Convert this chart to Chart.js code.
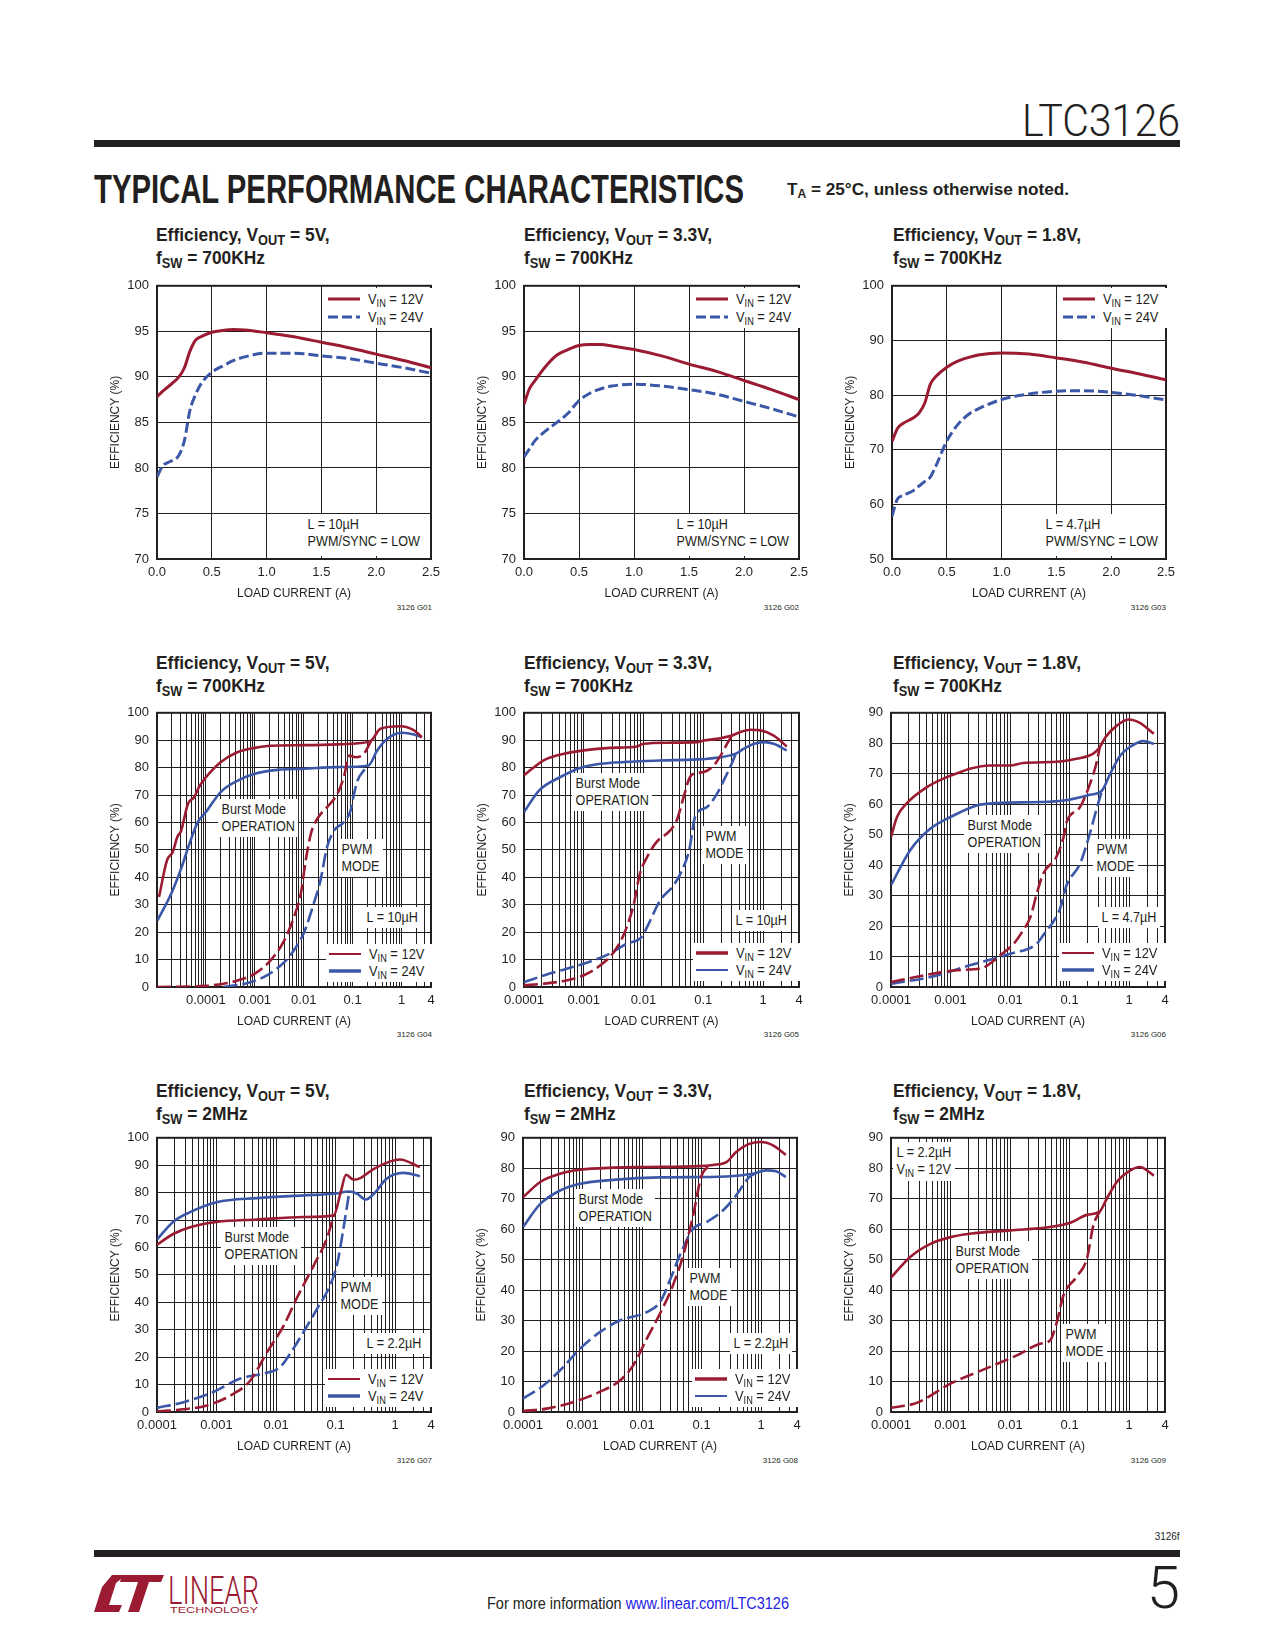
<!DOCTYPE html>
<html>
<head>
<meta charset="utf-8">
<script src="https://cdn.jsdelivr.net/npm/chart.js@4.4.1/dist/chart.umd.min.js"></script>
<style>
  body { margin: 0; background: #fff; }
  #page { position: relative; width: 1275px; height: 1650px; overflow: hidden;
    font-family: "Liberation Sans", Arial, sans-serif; color: #231f20; }
  #page canvas { position: absolute; z-index: 1; }
  .abs { position: absolute; white-space: nowrap; z-index: 2; }
  .title { position: absolute; font-weight: bold; font-size: 19px; line-height: 22px; white-space: nowrap;
    transform: scaleX(0.915); transform-origin: 0 0; }
  .sub { font-size: 14px; position: relative; top: 4px; }
  .note { position: absolute; background: #fff; font-size: 14px; line-height: 17px; padding: 2px 4px; white-space: nowrap; z-index: 2;
    transform: scaleX(0.9); transform-origin: 0 0; }
  .leg { position: absolute; background: #fff; font-size: 14px; padding: 2px 4px 2px 3px; z-index: 2; }
  .leg .row { display: flex; align-items: center; white-space: nowrap; }
  .leg svg { margin-right: 8px; }
  .leg .txt { display: inline-block; transform: scaleX(0.92); transform-origin: 0 50%; }
  .s { font-size: 10px; position: relative; top: 3px; }
  .gid { position: absolute; font-size: 8px; white-space: nowrap; }
  .thin { font-family: Roboto, "Liberation Sans", sans-serif; font-weight: 300; }
</style>
</head>
<body>
<div id="page">
  <div id="part" class="abs thin" style="left:1022px; top:99px; font-size:44px; line-height:44px; transform-origin:0 0;">LTC3126</div>
  <div class="abs" style="left:94px; top:140px; width:1086px; height:7px; background:#231f20;"></div>
  <div id="hdr" class="abs" style="left:94px; top:169px; font-size:40px; line-height:40px; font-weight:bold; transform-origin:0 0;">TYPICAL PERFORMANCE CHARACTERISTICS</div>
  <div id="ta" class="abs" style="left:787px; top:181px; font-size:17px; line-height:17px; font-weight:bold; transform-origin:0 0;">T<span style="font-size:12px; position:relative; top:3px;">A</span> = 25°C, unless otherwise noted.</div>

  <div class="abs" style="right:95px; top:1530px; font-size:11px; transform:scaleX(0.9); transform-origin:100% 0;">3126f</div>
  <div class="abs" style="left:94px; top:1550px; width:1086px; height:7px; background:#231f20;"></div>
  <div class="abs thin" style="right:95px; top:1558px; font-size:60px; line-height:60px;">5</div>
  <div id="more" class="abs" style="left:487px; top:1595px; font-size:16px; line-height:18px; transform-origin:0 0;">For more information <span style="color:#2323e6;">www.linear.com/LTC3126</span></div>
  <svg class="abs" style="left:92px; top:1573px;" width="172" height="42">
    <polygon points="2,39 10,14 20,2 34,2 24,10 17,32 30,32 27,39" fill="#9a1b32"/>
    <polygon points="30,2 72,2 69,9 57,9 47,39 36,39 46,9 28,9" fill="#9a1b32"/>
    <text x="76" y="31" font-size="38" fill="#9a1b32" textLength="91" lengthAdjust="spacingAndGlyphs" font-family="Roboto, Liberation Sans, sans-serif" font-weight="300">LINEAR</text>
    <text x="78" y="40" font-size="9" fill="#9a1b32" textLength="88" lengthAdjust="spacingAndGlyphs" font-family="Liberation Sans, sans-serif">TECHNOLOGY</text>
  </svg>
</div>

<script>
// ---------- data (load current in A, efficiency in %) ----------

// G01  VOUT = 5V, 700kHz, linear axis
const g01Current = [0, 0.05, 0.1, 0.2, 0.25, 0.3, 0.35, 0.4, 0.5, 0.6, 0.7, 0.8, 1.0, 1.25, 1.5, 1.75, 2.0, 2.25, 2.5];
const g01Vin12 = [87.8, 88.4, 88.9, 90.0, 91.0, 92.8, 94.0, 94.4, 94.9, 95.1, 95.2, 95.15, 94.85, 94.4, 93.8, 93.2, 92.5, 91.8, 91.0];
const g01Vin24 = [79.0, 80.2, 80.6, 81.4, 83.0, 86.3, 88.0, 89.2, 90.5, 91.2, 91.8, 92.2, 92.6, 92.6, 92.3, 92.0, 91.5, 91.0, 90.4];

// G02  VOUT = 3.3V, 700kHz
const g02Current = [0, 0.05, 0.1, 0.2, 0.3, 0.4, 0.5, 0.6, 0.7, 0.8, 1.0, 1.25, 1.5, 1.75, 2.0, 2.25, 2.5];
const g02Vin12 = [87.0, 88.7, 89.6, 91.2, 92.4, 93.0, 93.45, 93.55, 93.55, 93.4, 93.0, 92.3, 91.4, 90.6, 89.6, 88.6, 87.5];
const g02Vin24 = [81.2, 82.1, 83.0, 84.1, 85.0, 86.0, 87.4, 88.2, 88.7, 89.0, 89.2, 89.0, 88.6, 88.1, 87.3, 86.5, 85.6];

// G03  VOUT = 1.8V, 700kHz
const g03Current = [0, 0.05, 0.1, 0.2, 0.25, 0.3, 0.35, 0.4, 0.5, 0.6, 0.7, 0.8, 1.0, 1.25, 1.5, 1.75, 2.0, 2.25, 2.5];
const g03Vin12 = [71.5, 73.9, 74.8, 75.9, 76.8, 78.6, 82.0, 83.4, 85.1, 86.2, 86.9, 87.4, 87.7, 87.5, 86.8, 86.0, 84.9, 83.9, 82.8];
const g03Vin24 = [57.8, 61.0, 61.6, 62.6, 63.4, 64.2, 65.0, 67.0, 71.6, 74.6, 76.5, 77.6, 79.2, 80.2, 80.7, 80.8, 80.5, 79.9, 79.1];

// G04  VOUT = 5V, 700kHz, log axis (solid = Burst Mode, dashed = PWM)
const g04Vin12BurstI = [1.1e-5, 1.6e-5, 2.1e-5, 2.6e-5, 3.1e-5, 4.3e-5, 5.8e-5, 7.2e-5, 1e-4, 2e-4, 4.5e-4, 1e-3, 2.1e-3, 0.01, 0.05, 0.13, 0.24, 0.37, 0.95, 1.8, 2.6];
const g04Vin12BurstEff = [32.8, 46.2, 49.2, 54.7, 56.9, 66.8, 69.3, 72.9, 76.5, 82.0, 85.7, 87.2, 88.0, 88.2, 88.5, 88.9, 89.9, 94.2, 95.1, 93.6, 91.1];
const g04Vin12PwmI = [1e-5, 1e-4, 2.3e-4, 4.5e-4, 1e-3, 2.1e-3, 4e-3, 6.3e-3, 8.7e-3, 0.011, 0.014, 0.019, 0.03, 0.049, 0.066, 0.085, 0.115, 0.17, 0.24];
const g04Vin12PwmEff = [0, 0.4, 1.2, 2.4, 4.9, 9.7, 17.0, 25.5, 34.0, 46.2, 55.9, 61.4, 65.6, 70.5, 76.5, 84.4, 83.8, 85.1, 89.9];
const g04Vin24BurstI = [1.02e-5, 1.95e-5, 3.1e-5, 4.6e-5, 6.8e-5, 1e-4, 2e-4, 4.5e-4, 1e-3, 2.9e-3, 0.01, 0.049, 0.21, 0.32, 0.51, 1.02, 1.8, 2.6];
const g04Vin24BurstEff = [24.3, 34.0, 43.1, 52.2, 60.1, 63.8, 71.1, 75.3, 77.8, 79.2, 79.6, 80.2, 80.8, 86.3, 90.5, 92.7, 92.1, 91.1];
const g04Vin24PwmI = [2.3e-4, 7.1e-4, 1.8e-3, 4e-3, 6.3e-3, 0.0102, 0.016, 0.022, 0.03, 0.042, 0.066, 0.091, 0.107, 0.126, 0.17, 0.21];
const g04Vin24PwmEff = [0, 1.5, 4.3, 9.1, 13.4, 20.0, 30.4, 38.9, 51.0, 57.1, 60.1, 64.4, 70.5, 75.3, 79.0, 80.8];

// G05  VOUT = 3.3V, 700kHz
const g05Vin12BurstI = [1e-4, 2.1e-4, 3.5e-4, 1e-3, 2.75e-3, 7.8e-3, 0.01, 0.025, 0.079, 0.102, 0.17, 0.3, 0.42, 0.62, 0.91, 1.51, 2.5];
const g05Vin12BurstEff = [77.2, 82.6, 84.4, 86.3, 87.2, 87.7, 88.7, 89.1, 89.3, 89.9, 90.5, 91.7, 93.0, 93.8, 93.6, 91.7, 87.7];
const g05Vin12PwmI = [1e-4, 2.1e-4, 5.1e-4, 1e-3, 1.9e-3, 3.2e-3, 4.6e-3, 6.8e-3, 8.7e-3, 0.0115, 0.0166, 0.028, 0.036, 0.047, 0.058, 0.069, 0.102, 0.15, 0.195, 0.25, 0.3];
const g05Vin12PwmEff = [0.6, 1.2, 2.4, 4.3, 7.9, 12.8, 18.8, 29.8, 41.3, 47.4, 52.9, 57.1, 60.8, 69.3, 75.9, 77.8, 78.4, 80.8, 84.4, 88.7, 91.7];
const g05Vin24BurstI = [1e-4, 1.8e-4, 4e-4, 8.7e-4, 1.9e-3, 5.2e-3, 0.019, 0.079, 0.195, 0.35, 0.48, 0.71, 1.05, 1.51, 2.5];
const g05Vin24BurstEff = [63.8, 71.7, 76.5, 79.9, 81.4, 82.1, 82.6, 83.0, 83.8, 85.1, 86.9, 88.7, 89.3, 88.7, 86.3];
const g05Vin24PwmI = [1e-4, 2.7e-4, 1e-3, 2.75e-3, 5.2e-3, 9.3e-3, 0.0115, 0.019, 0.032, 0.044, 0.058, 0.074, 0.115, 0.17, 0.22, 0.29, 0.35];
const g05Vin24PwmEff = [1.8, 4.9, 8.5, 12.2, 15.8, 18.2, 21.9, 31.6, 37.1, 42.5, 49.8, 62.5, 65.6, 70.5, 75.3, 80.8, 85.1];

// G06  VOUT = 1.8V, 700kHz
const g06Vin12BurstI = [1e-4, 1.26e-4, 1.8e-4, 4e-4, 8.7e-4, 1.45e-3, 2.1e-3, 4.6e-3, 0.01, 0.0166, 0.069, 0.13, 0.25, 0.32, 0.4, 0.62, 0.98, 1.51, 2.6];
const g06Vin12BurstEff = [49.2, 55.8, 60.1, 65.6, 68.9, 70.5, 71.6, 72.7, 72.7, 73.5, 74.0, 74.9, 76.6, 78.7, 82.0, 85.8, 87.8, 86.7, 83.1];
const g06Vin12PwmI = [1e-4, 3.5e-4, 1.26e-3, 3.5e-3, 4.6e-3, 6.8e-3, 0.0115, 0.0166, 0.022, 0.028, 0.036, 0.06, 0.079, 0.089, 0.15, 0.21, 0.29, 0.32];
const g06Vin12PwmEff = [1.6, 3.8, 5.5, 6.3, 7.7, 10.4, 14.2, 18.6, 23.0, 30.6, 37.2, 42.7, 49.2, 54.1, 59.1, 65.6, 74.4, 78.7];
const g06Vin24BurstI = [1e-4, 2.1e-4, 4.6e-4, 1e-3, 2.75e-3, 6e-3, 0.032, 0.079, 0.22, 0.35, 0.48, 0.71, 1.05, 1.74, 2.6];
const g06Vin24BurstEff = [33.4, 44.9, 52.0, 55.8, 59.6, 60.4, 60.7, 61.2, 63.1, 64.5, 70.0, 76.0, 78.9, 80.7, 79.8];
const g06Vin24PwmI = [1e-4, 4.6e-4, 2.1e-3, 0.01, 0.028, 0.036, 0.069, 0.089, 0.15, 0.21, 0.29, 0.35];
const g06Vin24PwmEff = [1.1, 3.3, 7.1, 10.9, 14.2, 17.0, 25.7, 33.4, 40.5, 49.2, 59.1, 64.5];

// G07  VOUT = 5V, 2MHz
const g07Vin12BurstI = [1e-4, 1.9e-4, 3.6e-4, 1e-3, 4.8e-3, 0.029, 0.093, 0.12, 0.15, 0.2, 0.26, 0.44, 0.83, 1.2, 2.6];
const g07Vin12BurstEff = [61.0, 65.0, 67.4, 69.3, 70.2, 71.1, 71.7, 79.6, 86.5, 84.7, 85.3, 88.7, 91.4, 92.1, 89.3];
const g07Vin12PwmI = [1e-4, 2.5e-4, 6.9e-4, 1.95e-3, 3.7e-3, 7.1e-3, 0.0135, 0.022, 0.043, 0.071, 0.093];
const g07Vin12PwmEff = [0.2, 0.9, 2.4, 6.7, 11.5, 21.9, 31.6, 41.3, 53.5, 63.2, 71.7];
const g07Vin24BurstI = [1e-4, 1.9e-4, 3.6e-4, 1e-3, 4.8e-3, 0.029, 0.093, 0.17, 0.23, 0.32, 0.44, 0.72, 1.38, 2.6];
const g07Vin24BurstEff = [62.9, 69.5, 72.9, 76.5, 78.0, 79.0, 79.6, 80.4, 79.6, 77.5, 79.6, 85.1, 87.2, 86.0];
const g07Vin24PwmI = [1e-4, 2.8e-4, 8.9e-4, 2.5e-3, 6.2e-3, 0.0117, 0.0195, 0.029, 0.049, 0.081, 0.105, 0.135, 0.17];
const g07Vin24PwmEff = [1.5, 3.6, 7.3, 12.2, 14.0, 16.4, 23.1, 29.2, 37.7, 46.2, 53.5, 66.8, 80.4];

// G08  VOUT = 3.3V, 2MHz
const g08Vin12BurstI = [1e-4, 1.95e-4, 4.2e-4, 9.1e-4, 3.3e-3, 0.012, 0.093, 0.155, 0.26, 0.38, 0.63, 1.0, 1.58, 2.6];
const g08Vin12BurstEff = [70.5, 75.5, 78.2, 79.5, 80.2, 80.4, 80.7, 81.1, 82.0, 85.3, 88.0, 88.6, 87.5, 84.4];
const g08Vin12PwmI = [1e-4, 2.5e-4, 7.1e-4, 1.95e-3, 4.3e-3, 7.1e-3, 0.012, 0.02, 0.033, 0.049, 0.072, 0.1, 0.155];
const g08Vin12PwmEff = [0.3, 1.1, 3.3, 6.6, 10.4, 15.3, 24.1, 32.3, 41.6, 51.4, 64.5, 77.6, 81.1];
const g08Vin24BurstI = [1e-4, 1.95e-4, 4.2e-4, 9.1e-4, 3.3e-3, 0.02, 0.26, 0.72, 1.2, 1.78, 2.6];
const g08Vin24BurstEff = [60.7, 68.3, 72.7, 74.9, 76.2, 77.0, 77.3, 78.2, 79.3, 79.0, 77.1];
const g08Vin24PwmI = [1e-4, 2.2e-4, 4.2e-4, 9.1e-4, 1.95e-3, 4.3e-3, 0.012, 0.02, 0.03, 0.043, 0.072, 0.12, 0.23, 0.38, 0.63, 1.0];
const g08Vin24PwmEff = [4.4, 8.7, 13.7, 20.8, 26.2, 30.1, 32.8, 36.1, 43.7, 51.4, 60.1, 62.3, 66.2, 71.1, 77.1, 79.0];

// G09  VOUT = 1.8V, 2MHz, VIN = 12V only
const g09Vin12BurstI = [1e-4, 2.1e-4, 4.6e-4, 1e-3, 2.1e-3, 0.01, 0.047, 0.102, 0.195, 0.32, 0.42, 0.62, 1.05, 1.51, 2.6];
const g09Vin12BurstEff = [44.1, 50.9, 55.2, 57.4, 58.5, 59.6, 60.7, 62.1, 64.7, 65.8, 70.0, 75.5, 79.3, 80.4, 77.6];
const g09Vin12PwmI = [1e-4, 2.7e-4, 1e-3, 4.6e-3, 0.013, 0.032, 0.047, 0.06, 0.079, 0.13, 0.195, 0.25, 0.32];
const g09Vin12PwmEff = [1.4, 3.0, 9.3, 14.8, 18.6, 22.4, 23.5, 29.0, 38.3, 44.3, 50.3, 61.2, 65.8];

// tick labels
const logTickValues = [0.0001, 0.001, 0.01, 0.1, 1, 4];
const logTickLabels = ['0.0001', '0.001', '0.01', '0.1', '1', '4'];

// ---------- drawing ----------
const RED = '#9a1b32';
const BLUE = '#3b57a7';
const INK = '#231f20';
const FONT = '"Liberation Sans", Arial, sans-serif';
Chart.defaults.font.family = FONT;
Chart.defaults.color = INK;

const page = document.getElementById('page');

const pts = (xs, ys) => xs.map((x, i) => ({ x: x, y: ys[i] }));

// frame around the plot area
const frame = {
  id: 'frame',
  beforeDatasetsDraw(chart) {
    const { ctx, chartArea: a } = chart;
    ctx.save();
    ctx.strokeStyle = INK;
    ctx.lineWidth = 2;
    ctx.strokeRect(a.left, a.top, a.right - a.left, a.bottom - a.top);
    ctx.restore();
  }
};

function logGrid(min, max) {
  const v = [];
  for (let e = Math.floor(Math.log10(min)); e <= Math.ceil(Math.log10(max)); e++) {
    for (let m = 1; m <= 9; m++) {
      const t = m * Math.pow(10, e);
      if (t >= min * 0.999 && t <= max * 1.001) v.push(t);
    }
  }
  if (v[v.length - 1] < max * 0.999) v.push(max);
  return v;
}

function logLabel(v) {
  const i = logTickValues.findIndex(t => Math.abs(Math.log10(t) - Math.log10(v)) < 1e-6);
  return i < 0 ? '' : logTickLabels[i];
}

function line(data, color, dashed, width) {
  return {
    data: data, borderColor: color, borderWidth: width || 3,
    borderDash: dashed ? dashed : [], pointRadius: 0, fill: false,
    cubicInterpolationMode: 'monotone'
  };
}

function makeChart(plot, xo, yo, datasets) {
  const c = document.createElement('canvas');
  const w = plot.w + 95, h = plot.h + 65;
  c.width = w; c.height = h;
  c.style.left = (plot.x - 70) + 'px';
  c.style.top = (plot.y - 15) + 'px';
  c.style.width = w + 'px';
  c.style.height = h + 'px';
  page.appendChild(c);

  const gridLines = xo.log ? logGrid(xo.min, xo.max) : null;
  new Chart(c, {
    type: 'line',
    data: { datasets: datasets },
    options: {
      responsive: false,
      animation: false,
      devicePixelRatio: 1,
      layout: { padding: { top: 15, right: 25, left: 0, bottom: 0 } },
      plugins: { legend: { display: false }, tooltip: { enabled: false } },
      scales: {
        x: {
          type: xo.log ? 'logarithmic' : 'linear',
          min: xo.min, max: xo.max,
          afterFit: s => { s.height = 50; },
          afterBuildTicks: s => {
            if (gridLines) s.ticks = gridLines.map(v => ({ value: v }));
          },
          grid: { color: INK, lineWidth: 1, drawTicks: false },
          border: { display: false },
          ticks: {
            autoSkip: false, maxRotation: 0, minRotation: 0, padding: 6,
            stepSize: xo.step, color: INK, font: { size: 13 },
            callback: v => xo.log ? logLabel(v) : Number(v).toFixed(1)
          },
          title: { display: true, text: 'LOAD CURRENT (A)', color: INK, font: { size: 12 }, padding: { top: 0, bottom: 8 } }
        },
        y: {
          type: 'linear', min: yo.min, max: yo.max,
          afterFit: s => { s.width = 70; },
          grid: { color: INK, lineWidth: 1, drawTicks: false },
          border: { display: false },
          ticks: { stepSize: yo.step, padding: 8, color: INK, font: { size: 13 } },
          title: { display: true, text: 'EFFICIENCY (%)', color: INK, font: { size: 12 }, padding: { top: 21, bottom: 0 } }
        }
      }
    },
    plugins: [frame]
  });
}

function title(left, top, vout, fsw) {
  const d = document.createElement('div');
  d.className = 'title';
  d.style.left = left + 'px';
  d.style.top = top + 'px';
  d.innerHTML = 'Efficiency, V<span class="sub">OUT</span> = ' + vout + ',<br>f<span class="sub">SW</span> = ' + fsw;
  page.appendChild(d);
}

function note(left, centerY, html, extraBottom) {
  const d = document.createElement('div');
  d.className = 'note';
  d.style.left = (left - 4) + 'px';
  d.style.top = (centerY - 10.5) + 'px';
  if (extraBottom) d.style.paddingBottom = extraBottom + 'px';
  d.innerHTML = html;
  page.appendChild(d);
}

function legend(x, y, rowH, items) {
  const d = document.createElement('div');
  d.className = 'leg';
  d.style.left = (x - 3) + 'px';
  d.style.top = (y - rowH / 2 - 2) + 'px';
  d.innerHTML = items.map(it =>
    '<div class="row" style="height:' + rowH + 'px">' +
    '<svg width="32" height="8"><line x1="0" y1="4" x2="32" y2="4" stroke="' + it.color +
    '" stroke-width="' + it.width + '"' + (it.dash ? ' stroke-dasharray="' + it.dash + '"' : '') + '/></svg>' +
    '<span class="txt">V<span class="s">IN</span> = ' + it.vin + '</span></div>').join('');
  page.appendChild(d);
}

function gid(right, centerY, text) {
  const d = document.createElement('div');
  d.className = 'gid';
  d.style.right = (1275 - right) + 'px';
  d.style.top = (centerY - 5) + 'px';
  d.textContent = text;
  page.appendChild(d);
}

const DASH_TOP = [10, 4];
const DASH_LOG = [14, 5];
const linX = { min: 0, max: 2.5, step: 0.5 };

// ----- row 1 -----
makeChart({ x: 157, y: 285, w: 274, h: 274 }, linX, { min: 70, max: 100, step: 5 }, [
  line(pts(g01Current, g01Vin12), RED),
  line(pts(g01Current, g01Vin24), BLUE, DASH_TOP)
]);
makeChart({ x: 524, y: 285, w: 275, h: 274 }, linX, { min: 70, max: 100, step: 5 }, [
  line(pts(g02Current, g02Vin12), RED),
  line(pts(g02Current, g02Vin24), BLUE, DASH_TOP)
]);
makeChart({ x: 892, y: 285, w: 274, h: 274 }, linX, { min: 50, max: 100, step: 10 }, [
  line(pts(g03Current, g03Vin12), RED),
  line(pts(g03Current, g03Vin24), BLUE, DASH_TOP)
]);

// ----- row 2 -----
makeChart({ x: 157, y: 712, w: 274, h: 275 }, { log: true, min: 1e-5, max: 4 }, { min: 0, max: 100, step: 10 }, [
  line(pts(g04Vin12BurstI, g04Vin12BurstEff), RED, null, 2.6),
  line(pts(g04Vin12PwmI, g04Vin12PwmEff), RED, DASH_LOG, 2.6),
  line(pts(g04Vin24BurstI, g04Vin24BurstEff), BLUE, null, 2.6),
  line(pts(g04Vin24PwmI, g04Vin24PwmEff), BLUE, DASH_LOG, 2.6)
]);
makeChart({ x: 524, y: 712, w: 275, h: 275 }, { log: true, min: 1e-4, max: 4 }, { min: 0, max: 100, step: 10 }, [
  line(pts(g05Vin12BurstI, g05Vin12BurstEff), RED, null, 2.6),
  line(pts(g05Vin12PwmI, g05Vin12PwmEff), RED, DASH_LOG, 2.6),
  line(pts(g05Vin24BurstI, g05Vin24BurstEff), BLUE, null, 2.6),
  line(pts(g05Vin24PwmI, g05Vin24PwmEff), BLUE, DASH_LOG, 2.6)
]);
makeChart({ x: 891, y: 712, w: 274, h: 275 }, { log: true, min: 1e-4, max: 4 }, { min: 0, max: 90, step: 10 }, [
  line(pts(g06Vin12BurstI, g06Vin12BurstEff), RED, null, 2.6),
  line(pts(g06Vin12PwmI, g06Vin12PwmEff), RED, DASH_LOG, 2.6),
  line(pts(g06Vin24BurstI, g06Vin24BurstEff), BLUE, null, 2.6),
  line(pts(g06Vin24PwmI, g06Vin24PwmEff), BLUE, DASH_LOG, 2.6)
]);

// ----- row 3 -----
makeChart({ x: 157, y: 1137, w: 274, h: 275 }, { log: true, min: 1e-4, max: 4 }, { min: 0, max: 100, step: 10 }, [
  line(pts(g07Vin12BurstI, g07Vin12BurstEff), RED, null, 2.6),
  line(pts(g07Vin12PwmI, g07Vin12PwmEff), RED, DASH_LOG, 2.6),
  line(pts(g07Vin24BurstI, g07Vin24BurstEff), BLUE, null, 2.6),
  line(pts(g07Vin24PwmI, g07Vin24PwmEff), BLUE, DASH_LOG, 2.6)
]);
makeChart({ x: 523, y: 1137, w: 274, h: 275 }, { log: true, min: 1e-4, max: 4 }, { min: 0, max: 90, step: 10 }, [
  line(pts(g08Vin12BurstI, g08Vin12BurstEff), RED, null, 2.6),
  line(pts(g08Vin12PwmI, g08Vin12PwmEff), RED, DASH_LOG, 2.6),
  line(pts(g08Vin24BurstI, g08Vin24BurstEff), BLUE, null, 2.6),
  line(pts(g08Vin24PwmI, g08Vin24PwmEff), BLUE, DASH_LOG, 2.6)
]);
makeChart({ x: 891, y: 1137, w: 274, h: 275 }, { log: true, min: 1e-4, max: 4 }, { min: 0, max: 90, step: 10 }, [
  line(pts(g09Vin12BurstI, g09Vin12BurstEff), RED, null, 2.6),
  line(pts(g09Vin12PwmI, g09Vin12PwmEff), RED, DASH_LOG, 2.6)
]);

// ----- titles -----
title(156, 224, '5V', '700KHz');
title(524, 224, '3.3V', '700KHz');
title(893, 224, '1.8V', '700KHz');
title(156, 652, '5V', '700KHz');
title(524, 652, '3.3V', '700KHz');
title(893, 652, '1.8V', '700KHz');
title(156, 1080, '5V', '2MHz');
title(524, 1080, '3.3V', '2MHz');
title(893, 1080, '1.8V', '2MHz');

// ----- legends -----
const topItems = [{ color: RED, width: 3, vin: '12V' }, { color: BLUE, width: 3, dash: '10,4', vin: '24V' }];
legend(328, 299, 18, topItems);
legend(696, 299, 18, topItems);
legend(1063, 299, 18, topItems);
const thinRed = [{ color: RED, width: 2, vin: '12V' }, { color: BLUE, width: 3.5, vin: '24V' }];
const thinBlue = [{ color: RED, width: 3.5, vin: '12V' }, { color: BLUE, width: 2, vin: '24V' }];
legend(329, 954, 17, thinRed);
legend(696, 953, 17, thinBlue);
legend(1062, 953, 17, thinRed);
legend(328, 1379, 17, thinRed);
legend(695, 1379, 17, thinBlue);

// ----- notes -----
note(308, 524, 'L = 10µH<br>PWM/SYNC = LOW', 6);
note(677, 524, 'L = 10µH<br>PWM/SYNC = LOW', 6);
note(1046, 524, 'L = 4.7µH<br>PWM/SYNC = LOW', 6);

note(222, 809, 'Burst Mode<br>OPERATION');
note(342, 849, 'PWM<br>MODE');
note(367, 917, 'L = 10µH');

note(576, 783, 'Burst Mode<br>OPERATION');
note(706, 836, 'PWM<br>MODE');
note(736, 920, 'L = 10µH');

note(968, 825, 'Burst Mode<br>OPERATION');
note(1097, 849, 'PWM<br>MODE');
note(1102, 917, 'L = 4.7µH');

note(225, 1237, 'Burst Mode<br>OPERATION');
note(341, 1287, 'PWM<br>MODE');
note(367, 1343, 'L = 2.2µH');

note(579, 1199, 'Burst Mode<br>OPERATION');
note(690, 1278, 'PWM<br>MODE');
note(734, 1343, 'L = 2.2µH');

note(897, 1152, 'L = 2.2µH<br>V<span class="s">IN</span> = 12V');
note(956, 1251, 'Burst Mode<br>OPERATION');
note(1066, 1334, 'PWM<br>MODE');

// ----- figure ids -----
gid(432, 608, '3126 G01'); gid(799, 608, '3126 G02'); gid(1166, 608, '3126 G03');
gid(432, 1035, '3126 G04'); gid(799, 1035, '3126 G05'); gid(1166, 1035, '3126 G06');
gid(432, 1461, '3126 G07'); gid(798, 1461, '3126 G08'); gid(1166, 1461, '3126 G09');

// stretch page texts to the widths in the reference
function fitWidth(id, target) {
  const el = document.getElementById(id);
  const w = el.getBoundingClientRect().width;
  if (w > 0) el.style.transform = 'scaleX(' + (target / w) + ')';
}
fitWidth('hdr', 650);
fitWidth('ta', 282);
fitWidth('more', 302);
fitWidth('part', 158);
</script>
</body>
</html>
